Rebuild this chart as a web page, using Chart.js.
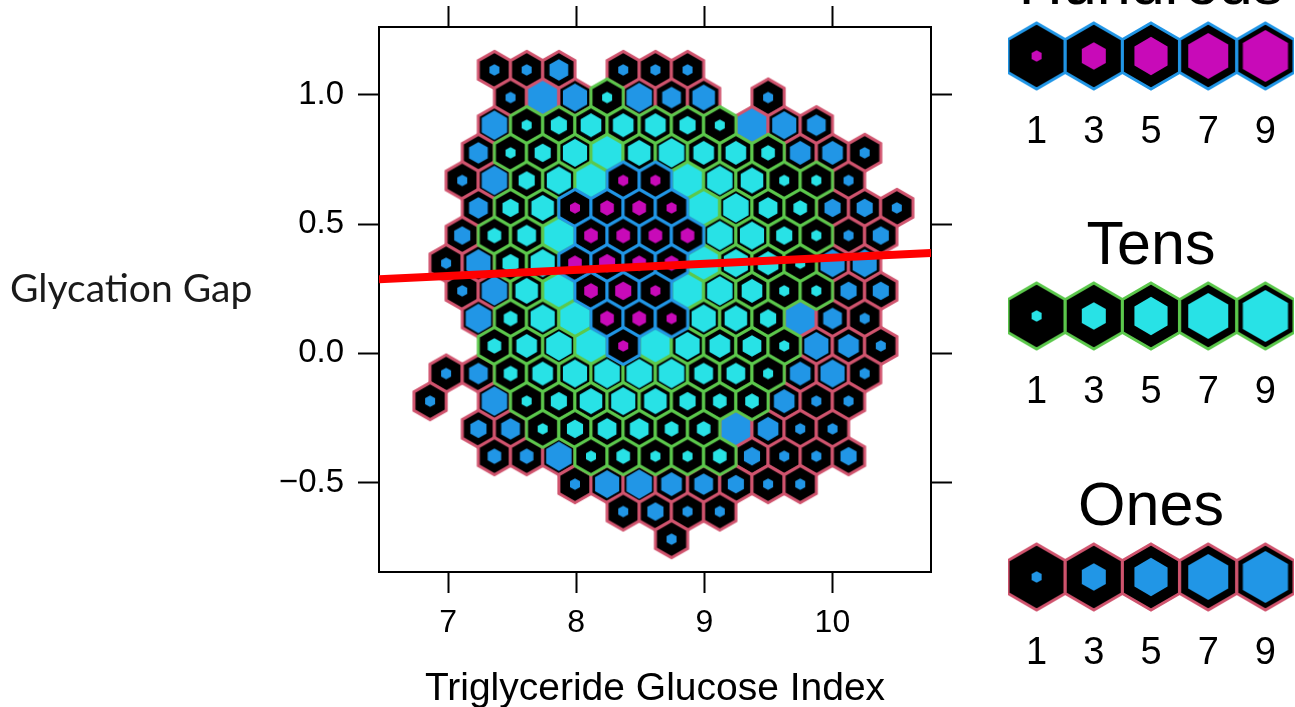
<!DOCTYPE html>
<html>
<head>
<meta charset="utf-8">
<title>Glycation Gap hexbin</title>
<script src="https://cdn.jsdelivr.net/npm/chart.js@4"></script>
<style>
  html, body { margin: 0; padding: 0; background: #fff; overflow: hidden; width: 1295px; height: 707px; }
  canvas { position: absolute; }
</style>
</head>
<body>
<canvas id="mainChart" width="990" height="707" style="left:0;top:0"></canvas>
<canvas id="legendHundreds" width="286" height="200" style="left:1008px;top:-45px"></canvas>
<canvas id="legendTens" width="286" height="200" style="left:1008px;top:215px"></canvas>
<canvas id="legendOnes" width="286" height="200" style="left:1008px;top:476px"></canvas>
<script>
// data
const xTicks = [7, 8, 9, 10];
const yTicks = [-0.5, 0, 0.5, 1];

// hexbin column centres
const binX = [6.859, 6.984, 7.110, 7.236, 7.361, 7.487, 7.613, 7.738, 7.864, 7.990,
  8.115, 8.241, 8.367, 8.492, 8.618, 8.744, 8.869, 8.995, 9.121, 9.246,
  9.372, 9.498, 9.624, 9.749, 9.875, 10.001, 10.126, 10.252, 10.378, 10.503];
// hexbin row centres, top to bottom
const rowY = [1.097, 0.990, 0.883, 0.776, 0.669, 0.563, 0.456, 0.349, 0.242,
  0.135, 0.029, -0.078, -0.185, -0.292, -0.398, -0.506, -0.612, -0.719];
// first column of each row
const rowStart = [4, 5, 4, 3, 2, 3, 2, 1, 2, 3, 4, 1, 0, 3, 4, 9, 12, 15];
// counts per row, 0 = empty bin, x.5 = inner hexagon fills the whole cell
const rowCounts = [
  [2, 2, 5, 0, 2, 2, 2],
  [2, 9.5, 8, 20, 9, 5, 7, 0, 2],
  [9, 20, 40, 60, 60, 60, 40, 20, 9.5, 8, 5],
  [5, 20, 40, 80, 95, 70, 90, 60, 60, 30, 6, 6, 2],
  [2, 9, 40, 80, 95, 200, 200, 95, 90, 70, 20, 20, 2],
  [5, 40, 70, 200, 300, 300, 200, 95, 90, 50, 30, 4, 4, 2],
  [4, 30, 50, 95, 300, 300, 300, 300, 90, 80, 40, 20, 2, 4],
  [2, 8, 40, 80, 300, 400, 300, 300, 95, 80, 60, 20, 8, 8],
  [2, 9, 70, 95, 300, 400, 200, 95, 90, 60, 20, 20, 4, 4],
  [9, 30, 80, 95, 300, 300, 200, 80, 70, 40, 9.5, 5, 2],
  [30, 60, 90, 95, 200, 95, 80, 60, 50, 20, 8, 6, 2],
  [2, 5, 30, 60, 80, 90, 90, 90, 50, 50, 20, 6, 8, 2],
  [2, 0, 9, 20, 40, 70, 80, 70, 40, 30, 30, 6, 2, 2],
  [4, 5, 20, 40, 50, 50, 30, 30, 9.5, 6, 2, 2],
  [3, 3, 9, 20, 30, 20, 20, 30, 4, 2, 2, 4],
  [2, 8, 9, 6, 5, 4, 2, 2],
  [2, 4, 2, 2],
  [2]
];

// regression line
const lineX = [6.46, 10.77];
const lineY = [0.287, 0.388];

// legends
const legendDigits = ['1', '3', '5', '7', '9'];
const hundredsCounts = [100, 300, 500, 700, 900];
const tensCounts = [10, 30, 50, 70, 90];
const onesCounts = [1, 3, 5, 7, 9];

// styles
const RED = '#d0546e', GREEN = '#5cc84c', BLUE = '#2196e6', CYAN = '#28e2e6', MAGENTA = '#c80ab8';
const innerSize = [0, 0.175, 0.31, 0.42, 0.50, 0.58, 0.64, 0.70, 0.75, 0.79];
const SANS = '"Liberation Sans", Arial, sans-serif';

function placeOf(count) {
  if (count >= 100) return 'hundreds';
  if (count >= 10) return 'tens';
  return 'ones';
}
const placeColors = {
  hundreds: { border: BLUE, inner: MAGENTA, div: 100 },
  tens: { border: GREEN, inner: CYAN, div: 10 },
  ones: { border: RED, inner: BLUE, div: 1 }
};

function hexPath(ctx, cx, cy, r) {
  ctx.beginPath();
  for (let i = 0; i < 6; i++) {
    const a = Math.PI / 3 * i - Math.PI / 2;
    ctx.lineTo(cx + r * Math.cos(a), cy + r * Math.sin(a));
  }
  ctx.closePath();
}

// one canvas per look, used as the point style
const hexCache = {};
function hexImage(count, r, lw) {
  const key = count + '_' + r;
  if (hexCache[key]) return hexCache[key];
  const c = placeColors[placeOf(count)];
  const level = count / c.div;
  const ratio = level >= 9.5 ? 1 : innerSize[Math.round(level)];
  const size = Math.ceil(2 * r + 2 * lw) + 2;
  const cv = document.createElement('canvas');
  cv.width = size;
  cv.height = size;
  const g = cv.getContext('2d');
  const m = size / 2;
  hexPath(g, m, m, r);
  g.fillStyle = '#000';
  g.fill();
  hexPath(g, m, m, r * ratio);
  g.fillStyle = c.inner;
  g.fill();
  hexPath(g, m, m, r);
  g.strokeStyle = c.border;
  g.lineWidth = lw;
  g.lineJoin = 'miter';
  g.stroke();
  hexCache[key] = cv;
  return cv;
}

// split the cells by place
const cells = { hundreds: [], tens: [], ones: [] };
rowCounts.forEach((row, r) => {
  row.forEach((count, i) => {
    if (count === 0) return;
    cells[placeOf(count)].push({ x: binX[rowStart[r] + 2 * i], y: rowY[r], count });
  });
});

function hexDataset(list) {
  return {
    data: list,
    showLine: false,
    clip: false,
    pointRadius: 18,
    pointStyle: list.map(c => hexImage(c.count, 18.6, 3))
  };
}

const setTicks = (values) => (scale) => { scale.ticks = values.map(v => ({ value: v })); };
const frame = { display: true, color: '#000', width: 2 };
const outerTicks = { drawOnChartArea: false, tickLength: 21, tickColor: '#000', tickWidth: 2 };

// horizontal y axis title
const yTitle = {
  id: 'yTitle',
  afterDraw(chart) {
    const { ctx } = chart;
    ctx.save();
    ctx.font = '39px Lato, sans-serif';
    ctx.fillStyle = '#1a1a1a';
    ctx.textAlign = 'left';
    ctx.textBaseline = 'middle';
    ctx.fillText('Glycation Gap', 10, 289);
    ctx.restore();
  }
};

const mainChart = new Chart(document.getElementById('mainChart'), {
  type: 'scatter',
  data: {
    datasets: [
      {
        data: lineX.map((x, i) => ({ x, y: lineY[i] })),
        showLine: true,
        borderColor: '#ff0000',
        borderWidth: 8,
        pointRadius: 0
      },
      hexDataset(cells.hundreds),
      hexDataset(cells.tens),
      hexDataset(cells.ones)
    ]
  },
  options: {
    responsive: false,
    animation: false,
    events: [],
    layout: { padding: 0, autoPadding: false },
    plugins: { legend: { display: false }, tooltip: { enabled: false } },
    scales: {
      x: {
        type: 'linear', position: 'bottom', min: 6.46, max: 10.77,
        afterBuildTicks: setTicks(xTicks),
        afterFit(s) { s.height = 135; s.paddingLeft = 0; s.paddingRight = 0; },
        border: frame,
        grid: outerTicks,
        ticks: { color: '#000', font: { size: 32, family: SANS }, padding: 11, maxRotation: 0, callback: v => String(v) },
        title: { display: true, text: 'Triglyceride Glucose Index', color: '#000', font: { size: 39, family: SANS }, padding: { top: 0, bottom: -6 } }
      },
      x2: {
        type: 'linear', position: 'top', min: 6.46, max: 10.77,
        afterBuildTicks: setTicks(xTicks),
        afterFit(s) { s.height = 27; s.paddingLeft = 0; s.paddingRight = 0; },
        border: frame,
        grid: outerTicks,
        ticks: { display: false }
      },
      y: {
        type: 'linear', position: 'left', min: -0.846, max: 1.263,
        afterBuildTicks: setTicks(yTicks),
        afterFit(s) { s.width = 379; s.paddingTop = 0; s.paddingBottom = 0; },
        border: frame,
        grid: outerTicks,
        ticks: { color: '#000', font: { size: 33, family: SANS }, padding: 14, callback: v => v.toFixed(1).replace('-', '\u2212') }
      },
      y2: {
        type: 'linear', position: 'right', min: -0.846, max: 1.263,
        afterBuildTicks: setTicks(yTicks),
        afterFit(s) { s.width = 59; s.paddingTop = 0; s.paddingBottom = 0; },
        border: frame,
        grid: outerTicks,
        ticks: { display: false }
      }
    }
  },
  plugins: [yTitle]
});

// legend strips
function legendChart(id, title, counts) {
  return new Chart(document.getElementById(id), {
    type: 'scatter',
    data: {
      labels: legendDigits,
      datasets: [{
        data: counts.map((c, i) => ({ x: legendDigits[i], y: 0.5, count: c })),
        clip: false,
        pointRadius: 30,
        pointStyle: counts.map(c => hexImage(c, 33, 3))
      }]
    },
    options: {
      responsive: false,
      animation: false,
      events: [],
      layout: { padding: 0, autoPadding: false },
      plugins: {
        legend: { display: false },
        tooltip: { enabled: false },
        title: {
          display: true, text: title, color: '#000',
          font: { size: 61, family: SANS, weight: 'normal', lineHeight: 1 },
          padding: { top: 2, bottom: 1 }
        }
      },
      scales: {
        x: {
          type: 'category', offset: true,
          afterFit(s) { s.height = 62; },
          border: { display: false },
          grid: { display: false },
          ticks: { color: '#000', font: { size: 38, family: SANS }, padding: 9, maxRotation: 0, autoSkip: false }
        },
        y: { display: false, min: 0, max: 1 }
      }
    }
  });
}

legendChart('legendHundreds', 'Hundreds', hundredsCounts);
legendChart('legendTens', 'Tens', tensCounts);
legendChart('legendOnes', 'Ones', onesCounts);
</script>
</body>
</html>
